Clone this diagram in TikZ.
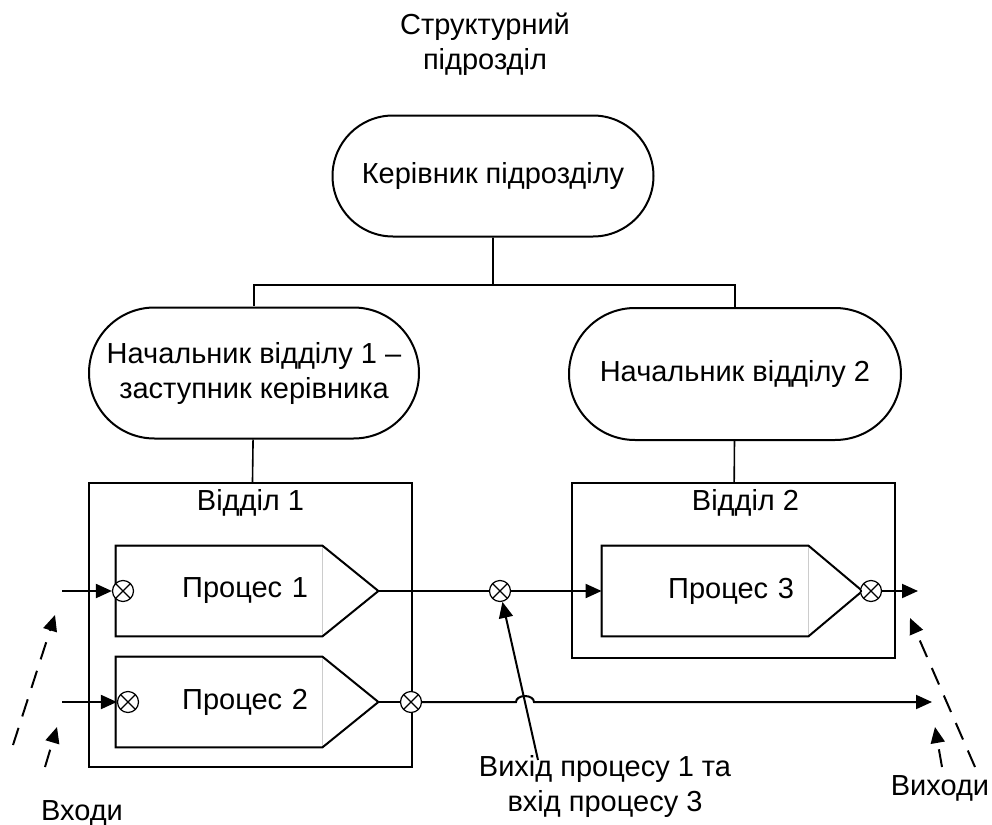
\documentclass[tikz,border=0pt]{standalone}
\usepackage{fontspec}
\setmainfont{Liberation Sans}
\usetikzlibrary{shapes.misc,arrows.meta}

\begin{document}
\begin{tikzpicture}[x=0.5pt,y=-0.5pt]
        \tikzstyle{every node}=[font=\fontsize{14.5}{17.5}\selectfont, align=center]
        \tikzstyle{wire}=[line width=1pt, line join=miter]
        \tikzstyle{branch}=[line width=0.8pt]
        \tikzstyle{flow}=[wire, -{Triangle[length=8pt,width=7pt]}]
        \tikzstyle{dashflow}=[flow, dash pattern=on 9pt off 6pt]
        \tikzstyle{headbox}=[rounded rectangle, draw, line width=1pt, inner sep=2pt]
        \tikzstyle{dept}=[rectangle, draw, line width=1pt, minimum width=161.5pt]
        \tikzstyle{proc}=[rectangle, draw=gray!40, line width=0.4pt, minimum width=103pt, minimum height=45pt, text width=89pt, inner xsep=7pt, inner ysep=0pt, align=right]
        \tikzstyle{xjoin}=[circle, draw, fill=white, line width=0.6pt, minimum size=10.5pt, inner sep=0pt, path picture={\draw[line width=0.6pt] (path picture bounding box.south west) -- (path picture bounding box.north east) (path picture bounding box.north west) -- (path picture bounding box.south east);}]
        \useasboundingbox (0,0) rectangle (992,825);
        % management
        \node (title) at (485,44) {Структурний\\підрозділ};
        \node[headbox, minimum width=164.5pt, minimum height=60.5pt] (boss) at (493,176) {Керівник підрозділу};
        \node[headbox, minimum width=169pt, minimum height=65.5pt] (head1) at (254,373) {Начальник відділу 1 –\\заступник керівника};
        \node[headbox, minimum width=170pt, minimum height=66pt] (head2) at (735,374) {Начальник відділу 2};
        \coordinate (fork) at (493,285);
        \draw[branch] (boss) -- (fork);
        \draw[branch] (fork) -| (head1);
        \draw[branch] (fork) -| (head2);
        % departments
        \node[dept, minimum height=142pt, label={[anchor=north]north:Відділ 1}] (dept1) at (250.5,625) {};
        \node[dept, minimum height=87.5pt, label={[anchor=north, xshift=6pt]north:Відділ 2}] (dept2) at (733.5,570.5) {};
        \draw[branch] (head1) -- (dept1);
        \draw[branch] (head2) -- (dept2);
        % processes
        \node[proc] (p1) at (219,591) {Процес 1};
        \node[proc] (p2) at (219,702) {Процес 2};
        \node[proc] (p3) at (705,591) {Процес 3};
        \coordinate (t1) at ([xshift=28pt]p1.east);
        \coordinate (t2) at ([xshift=28pt]p2.east);
        \coordinate (t3) at ([xshift=27pt]p3.east);
        \foreach \p/\t in {p1/t1,p2/t2,p3/t3}
            \draw[wire] (\p.south east) -- (\p.south west) -- (\p.north west) -- (\p.north east) -- (\t) -- cycle;
        \node[xjoin] (j1) at (123,591) {};
        \node[xjoin] (j2) at (128,702) {};
        \node[xjoin] (j4) at (411,702) {};
        \node[xjoin] (j13) at (500,591) {};
        \node[xjoin] (j3) at (871,591) {};
        % inputs and outputs
        \coordinate (in1) at (62,591);
        \coordinate (in2) at (62,702);
        \coordinate (out1) at (918,591);
        \coordinate (out2) at (932,702);
        \coordinate (hop) at (525,702);
        \draw[flow] (in1) -- (j1);
        \draw[flow] (in2) -- (j2);
        \draw[wire] (t1) -- (j13);
        \draw[flow] (j13) -- (p3);
        \draw[wire] (t3) -- (j3);
        \draw[flow] (j3) -- (out1);
        \draw[wire] (t2) -- (j4);
        \draw[flow] (j4) -- ([xshift=-4.5pt]hop) arc[start angle=180, end angle=0, x radius=4.5pt, y radius=3pt] -- (out2);
        % captions
        \node (note) at (605,786) {Вихід процесу 1 та\\вхід процесу 3};
        \node (inputs) at (82,813) {Входи};
        \node (outputs) at (940,788) {Виходи};
        \coordinate (noteend) at (538,760);
        \draw[flow] (noteend) -- (j13);
        \coordinate (la1) at (13,745);
        \coordinate (la2) at (55,615);
        \coordinate (lb1) at (45,767);
        \coordinate (lb2) at (57,727);
        \coordinate (ra1) at (975,767);
        \coordinate (ra2) at (910,618);
        \coordinate (rb1) at (942,767);
        \coordinate (rb2) at (935,727);
        \draw[dashflow] (la1) -- (la2);
        \draw[dashflow] (lb1) -- (lb2);
        \draw[dashflow] (ra1) -- (ra2);
        \draw[dashflow] (rb1) -- (rb2);
\end{tikzpicture}
\end{document}
